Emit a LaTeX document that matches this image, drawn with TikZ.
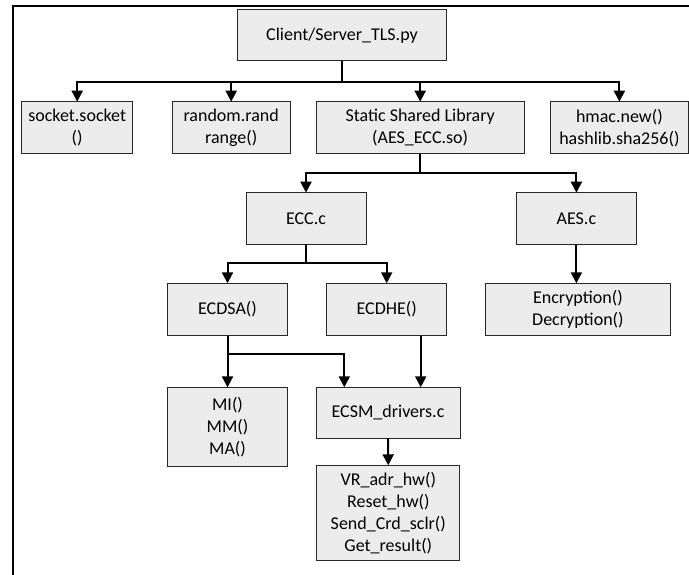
\documentclass[tikz,border=0pt]{standalone}
\usepackage{fontspec}
\setmainfont{Carlito}
\usetikzlibrary{arrows.meta}
\definecolor{boxfill}{RGB}{236,236,236}
\definecolor{boxline}{RGB}{40,40,40}
\tikzset{
  blk/.style={draw=boxline, line width=1pt, fill=boxfill, inner sep=0pt, outer sep=0pt,
    align=center, font=\fontsize{18}{22}\selectfont},
  conn/.style={line width=2pt, draw=black},
  arr/.style={conn, -{Triangle[width=11pt,length=11pt]}},
  frameline/.style={line width=2pt, line join=miter}
}
\begin{document}
\begin{tikzpicture}[x=1pt,y=-1pt]
\useasboundingbox (0,0) rectangle (689,575);
\draw[frameline] (689,5.7) -- (13.3,5.7) -- (13.3,575);

% nodes
\node[blk, minimum width=209.4pt, minimum height=51pt] (client) at (342,35.5) {Client/Server\_TLS.py};
\node[blk, minimum width=111pt, minimum height=52pt] (socket) at (77.2,127.7) {socket.socket\\()};
\node[blk, minimum width=117.7pt, minimum height=52pt] (random) at (231.2,127.7) {random.rand\\range()};
\node[blk, minimum width=208.3pt, minimum height=52pt] (static) at (420.2,127.7) {Static Shared Library\\(AES\_ECC.so)};
\node[blk, minimum width=137.3pt, minimum height=52pt] (hmac) at (619.4,127.7) {hmac.new()\\hashlib.sha256()};
\node[blk, minimum width=120pt, minimum height=51.6pt] (ecc) at (306,218.5) {ECC.c};
\node[blk, minimum width=119.3pt, minimum height=51.6pt] (aes) at (576.4,218.5) {AES.c};
\node[blk, minimum width=120.4pt, minimum height=52.4pt] (ecdsa) at (227.5,309.5) {ECDSA()};
\node[blk, minimum width=120pt, minimum height=52.4pt] (ecdhe) at (386.7,309.5) {ECDHE()};
\node[blk, minimum width=184.3pt, minimum height=52.4pt] (encr) at (577.9,309.5) {Encryption()\\Decryption()};
\node[blk, minimum width=120.4pt, minimum height=78.7pt] (mi) at (227.5,426.7) {MI()\\MM()\\MA()};
\node[blk, minimum width=144pt, minimum height=51pt] (ecsm) at (388,412.8) {ECSM\_drivers.c};
\node[blk, minimum width=143.3pt, minimum height=95.4pt] (vr) at (388.3,513) {VR\_adr\_hw()\\Reset\_hw()\\Send\_Crd\_sclr()\\Get\_result()};

% junctions
\coordinate (j1) at (342,81.7);
\coordinate (j2) at (420.2,172.7);
\coordinate (j3) at (306,262.7);
\coordinate (j4) at (227.5,354.3);

% top level
\draw[conn] (client.south) -- (j1);
\draw[arr] (j1) -| (socket.north);
\draw[arr] (j1) -| (random.north);
\draw[arr] (j1) -| (static.north);
\draw[arr] (j1) -| (hmac.north);

% static library
\draw[conn] (static.south) -- (j2);
\draw[arr] (j2) -| (ecc.north);
\draw[arr] (j2) -| (aes.north);

% ECC
\draw[conn] (ecc.south) -- (j3);
\draw[arr] (j3) -| (ecdsa.north);
\draw[arr] (j3) -| (ecdhe.north);

% AES
\draw[arr] (aes.south) -- (aes.south |- encr.north);

% ECDSA
\draw[conn] (ecdsa.south) -- (j4);
\draw[arr] (j4) -| (mi.north);
\draw[arr] (j4) -| ([xshift=-43.7pt]ecsm.north);

% ECDHE
\draw[arr] ([xshift=34pt]ecdhe.south) -- ([xshift=34pt]ecdhe.south |- ecsm.north);

% ECSM
\draw[arr] (ecsm.south) -- (vr.north);
\end{tikzpicture}
\end{document}
